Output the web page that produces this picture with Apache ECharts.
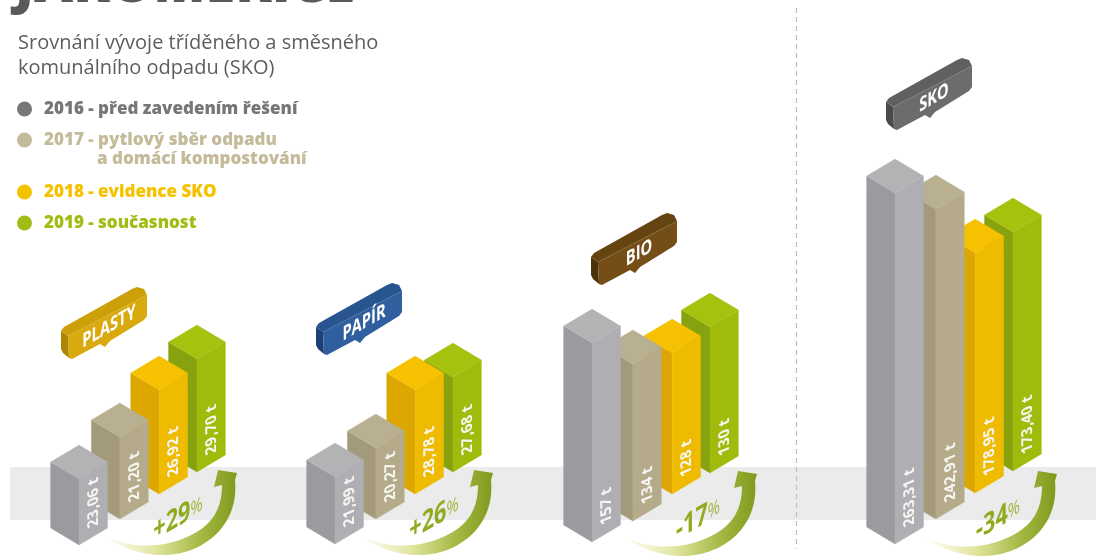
<!DOCTYPE html>
<html>
<head>
<meta charset="utf-8">
<style>html,body{margin:0;padding:0;background:#fff}#c{width:1096px;height:556px}</style>
<script src="https://cdn.jsdelivr.net/npm/echarts@6/dist/echarts.min.js"></script>
</head>
<body>
<div id="c"></div>
<script>
const categories = ['2016', '2017', '2018', '2019'];
const wasteTypes = ['PLASTY', 'PAPÍR', 'BIO', 'SKO'];
const changes = ['+29', '+26', '-17', '-34'];

// Printed tonnages, as the reference labels them.
const plastyLabels = ['23,06 t', '21,20 t', '26,92 t', '29,70 t'];
const papirLabels = ['21,99 t', '20,27 t', '28,78 t', '27,68 t'];
const bioLabels = ['157 t', '134 t', '128 t', '130 t'];
const skoLabels = ['263,31 t', '242,91 t', '178,95 t', '173,40 t'];

// Drawn bar heights. They do not track the printed
// tonnages exactly (the reference's 23,06 t bar is shorter than its 21,20 t bar).
const plastyHeights = [66, 82, 104, 113];
const papirHeights = [67, 71, 104, 95];
const bioHeights = [199, 157, 141, 146];
const skoHeights = [351, 310, 240, 239];

const leftColors = ['#9b9b9f', '#a29a7b', '#dba700', '#87a20f'];
const rightColors = ['#aeaeb3', '#b5ab8b', '#efbb00', '#a0bb0c'];
const topColors = ['#b3b3b6', '#b9b092', '#f6c100', '#a7c10f'];
const legendColors = ['#77777a', '#c4bb9a', '#f6c200', '#a0bd14'];
const tagFront = ['#d9a90e', '#2f5f9f', '#744e16', '#6c6c6e'];
const tagTop = ['#cba009', '#28548f', '#654412', '#606062'];
const tagSide = ['#ad8505', '#1d4074', '#4d330c', '#4a4a4c'];

const panelData = [
  { labels: plastyLabels, heights: plastyHeights, left: 59.4, base: 545, rise: [0, 26, 51, 73], tag: [60, 287], arrow: [0, 0] },
  { labels: papirLabels, heights: papirHeights, left: 315.4, base: 544, rise: [0, 25, 50, 72], tag: [315, 283], arrow: [256, 0] },
  { labels: bioLabels, heights: bioHeights, left: 572.4, base: 542, rise: [0, 21, 48, 69], tag: [590, 213], arrow: [520, 1] },
  { labels: skoLabels, heights: skoHeights, left: 875.4, base: 544, rise: [0, 25, 51, 73], tag: [885, 58], arrow: [820, 1] }
];

const STEP = 39.3, HALF_W = 28.5, HALF_D = 17;
const nudgeX = [0, 1.5, 1.5, 0];
const rad = d => d * Math.PI / 180;
const FONT = '"Open Sans", sans-serif';
const ARROW = 'M105,536 C128,553 165,563 198,547 C222,535 238,512 235,480 L237,473 L218,470 L214,487 L222,485 C222,508 213,523 195,533 C170,547 135,551 105,536 Z';

function barRenderer(panel) {
  return function (params, api) {
    const cat = api.value(0);
    const zero = api.coord([cat, 0]);
    const top = api.coord([cat, api.value(1)]);
    const h = zero[1] - top[1];
    const x = zero[0] + nudgeX[cat];
    const yb = zero[1] - panel.rise[cat];
    const yt = yb - h;
    const poly = (points, fill) => ({ type: 'polygon', shape: { points }, style: { fill, stroke: fill, lineWidth: 0.3 } });
    return {
      type: 'group',
      children: [
        poly([[x, yb], [x - HALF_W, yb - HALF_D], [x - HALF_W, yt - HALF_D], [x, yt]], leftColors[cat]),
        poly([[x, yb], [x + HALF_W, yb - HALF_D], [x + HALF_W, yt - HALF_D], [x, yt]], rightColors[cat]),
        poly([[x, yt], [x - HALF_W, yt - HALF_D], [x, yt - 2 * HALF_D], [x + HALF_W, yt - HALF_D]], topColors[cat]),
        {
          type: 'text', x: x + 14.5, y: yb - 18, rotation: Math.PI / 2, skewX: rad(22),
          style: { text: panel.labels[cat], fill: '#f6f6f2', font: 'bold 15px ' + FONT, align: 'left', verticalAlign: 'middle' }
        }
      ]
    };
  };
}

function decorRenderer(panel, i) {
  return function () {
    const t = panel.tag, a = panel.arrow;
    const poly = (points, fill) => ({ type: 'polygon', shape: { points }, style: { fill } });
    return {
      type: 'group',
      children: [
        {
          type: 'group', x: t[0], y: t[1],
          children: [
            poly([[1, 44], [8, 49], [9, 71], [3, 66], [1, 62]], tagSide[i]),
            poly([[1, 44], [4, 40], [72, 2], [77, 0], [84, 2], [87, 8], [8, 49]], tagTop[i]),
            poly([[8, 49], [87, 8], [87, 29], [84, 33], [50, 54], [45, 60], [40, 57], [12, 72], [9, 71]], tagFront[i]),
            {
              type: 'text', x: 49, y: 40, rotation: rad(30), skewX: rad(-30),
              style: { text: wasteTypes[i], fill: '#fff', font: 'bold 17px ' + FONT, align: 'center', verticalAlign: 'middle' }
            }
          ]
        },
        {
          type: 'path', x: a[0], y: a[1], shape: { pathData: ARROW },
          style: {
            fill: {
              type: 'linear', x: 0, y: 0, x2: 1, y2: 0,
              colorStops: [
                { offset: 0, color: 'rgba(250,250,225,0.6)' },
                { offset: 0.4, color: '#dfe39a' },
                { offset: 0.72, color: '#a5b945' },
                { offset: 1, color: '#7e991b' }
              ]
            }
          }
        },
        {
          type: 'text', x: 178 + a[0], y: 518 + a[1], rotation: rad(30), skewX: rad(-30),
          style: {
            text: '{a|' + changes[i] + '}{b|%}', align: 'center', verticalAlign: 'middle',
            rich: {
              a: { font: 'bold 25px ' + FONT, fill: '#8fab1e', color: '#8fab1e' },
              b: { font: '17px ' + FONT, fill: '#9db53a', color: '#9db53a' }
            }
          }
        }
      ]
    };
  };
}

const grids = [], xAxes = [], yAxes = [], series = [];
panelData.forEach((panel, i) => {
  grids.push({ left: panel.left, width: STEP * 4, bottom: 556 - panel.base, height: 400 });
  xAxes.push({ type: 'category', gridIndex: i, data: categories, show: false });
  yAxes.push({ type: 'value', gridIndex: i, min: 0, max: 400, show: false });
  // Painted back to front: the 2019 bar sits behind the 2016 bar.
  const items = panel.heights.map((h, c) => [c, h]).reverse();
  series.push({
    type: 'custom', name: wasteTypes[i], xAxisIndex: i, yAxisIndex: i, clip: false, silent: true,
    encode: { x: 0, y: 1 }, data: items, renderItem: barRenderer(panel)
  });
  series.push({
    type: 'custom', name: wasteTypes[i] + ' tag', xAxisIndex: i, yAxisIndex: i, clip: false, silent: true,
    encode: { x: 0, y: 1 }, data: [[0, 0]], renderItem: decorRenderer(panel, i)
  });
});

const legendRows = [
  { y: 109, c: 0, lines: ['2016 - před zavedením řešení'] },
  { y: 140, c: 1, lines: ['2017 - pytlový sběr odpadu', 'a domácí kompostování'] },
  { y: 192, c: 2, lines: ['2018 - evidence SKO'] },
  { y: 223, c: 3, lines: ['2019 - současnost'] }
];
const graphicEls = [
  { type: 'rect', z: 0, shape: { x: 10, y: 467, width: 1086, height: 53 }, style: { fill: '#ebebeb' } },
  { type: 'line', z: 0, shape: { x1: 796.5, y1: 8, x2: 796.5, y2: 549 }, style: { stroke: '#bdbdbd', lineWidth: 1.2, lineDash: [5, 4] } },
  { type: 'text', x: 15, y: 14, style: { text: 'JAKOMĚŘICE', fill: '#59595b', font: '800 54px ' + FONT, verticalAlign: 'bottom' } },
  { type: 'text', x: 18, y: 43, style: { text: 'Srovnání vývoje tříděného a směsného', fill: '#5d5d60', font: '20px ' + FONT, verticalAlign: 'middle' } },
  { type: 'text', x: 18, y: 68, style: { text: 'komunálního odpadu (SKO)', fill: '#5d5d60', font: '20px ' + FONT, verticalAlign: 'middle' } }
];
legendRows.forEach(r => {
  graphicEls.push({ type: 'circle', shape: { cx: 24.5, cy: r.y, r: 7.5 }, style: { fill: legendColors[r.c] } });
  graphicEls.push({ type: 'text', x: 44, y: r.y, style: { text: r.lines[0], fill: legendColors[r.c], font: '800 17px ' + FONT, verticalAlign: 'middle' } });
  if (r.lines[1]) {
    graphicEls.push({ type: 'text', x: 97, y: r.y + 19, style: { text: r.lines[1], fill: legendColors[r.c], font: '800 17px ' + FONT, verticalAlign: 'middle' } });
  }
});

const chart = echarts.init(document.getElementById('c'), null, { width: 1096, height: 556 });
chart.setOption({
  backgroundColor: '#fff',
  animation: false,
  tooltip: { show: false },
  grid: grids,
  xAxis: xAxes,
  yAxis: yAxes,
  graphic: { elements: graphicEls },
  series: series
});
</script>
</body>
</html>
